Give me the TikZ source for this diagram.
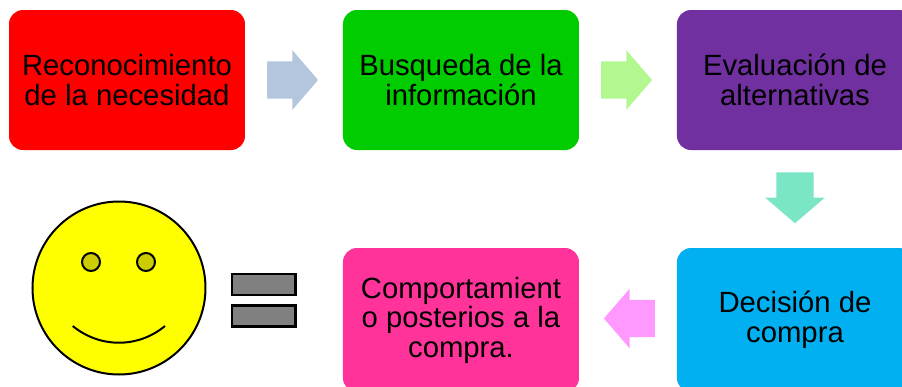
\documentclass[tikz,border=0pt]{standalone}
\usepackage{fontspec}
\setmainfont{Liberation Sans}
\usetikzlibrary{shapes.arrows}
\definecolor{rojo}{HTML}{FF0000}
\definecolor{verde}{HTML}{00CC00}
\definecolor{morado}{HTML}{7030A0}
\definecolor{celeste}{HTML}{00B0F0}
\definecolor{fucsia}{HTML}{FF3399}
\definecolor{flechaazul}{HTML}{B3C6DE}
\definecolor{flechaverde}{HTML}{B2F78F}
\definecolor{flechateal}{HTML}{7AE6C5}
\definecolor{flecharosa}{HTML}{FF99FF}
\definecolor{amarillo}{HTML}{FFFF00}
\definecolor{ocre}{HTML}{CCCC00}
\definecolor{gris}{HTML}{808080}
\tikzset{
  etapa/.style={rectangle,rounded corners=.14cm,minimum width=2.36cm,minimum height=1.4cm,
    inner sep=0pt,align=center,text=black,font=\fontsize{8.33}{8.4}\selectfont},
  flecha/.style={single arrow,single arrow head extend=.11cm,single arrow tip angle=98.5,
    minimum height=.51cm,minimum width=.58cm,inner xsep=0pt,inner ysep=.18cm,outer sep=0pt},
  barra/.style={draw=black,fill=gris,line width=.025cm,minimum width=.635cm,minimum height=.21cm,inner sep=0pt},
  ojo/.style={circle,draw=black,fill=ocre,line width=.02cm,minimum size=.18cm,inner sep=0pt}
}
\begin{document}
\begin{tikzpicture}
      \useasboundingbox (0,0) rectangle (9.02,3.86);
      \clip (0,0) rectangle (9.02,3.86);
      \coordinate (R) at (1.27,3.06);
      \coordinate (V) at (4.61,3.06);
      \coordinate (M) at (7.95,3.06);
      \coordinate (C) at (7.95,0.66);
      \coordinate (F) at (4.61,0.66);
      \node[etapa,fill=rojo] (necesidad) at (R) {Reconocimiento\\de la necesidad};
      \node[etapa,fill=verde] (busqueda) at (V) {Busqueda de la\\información};
      \node[etapa,fill=morado] (evaluacion) at (M) {Evaluación de\\alternativas};
      \node[etapa,fill=celeste,minimum height=1.44cm] (decision) at (C) {Decisión de\\compra};
      \node[etapa,fill=fucsia,minimum height=1.44cm] (comportamiento) at (F) {Comportamient\\o posterios a la\\compra.};
      \node[flecha,fill=flechaazul] (flechaA) at (2.845,3.06) {};
      \node[flecha,fill=flechaverde] (flechaB) at (6.185,3.06) {};
      \node[flecha,fill=flechateal,rotate=-90] (flechaC) at (7.95,1.963) {};
      \node[flecha,fill=flecharosa,rotate=180] (flechaD) at (6.375,0.675) {};
      \node[barra] (barraA) at (2.64,1.016) {};
      \node[barra] (barraB) at (2.64,0.70) {};
      \draw[line width=.02cm,fill=amarillo] (1.19,0.98) circle (.865);
      \node[ojo] (ojoA) at (.91,1.24) {};
      \node[ojo] (ojoB) at (1.46,1.24) {};
      \draw[line width=.02cm] (.727,.60) .. controls (1.0,.377) and (1.38,.377) .. (1.65,.60);
    \end{tikzpicture}
\end{document}
